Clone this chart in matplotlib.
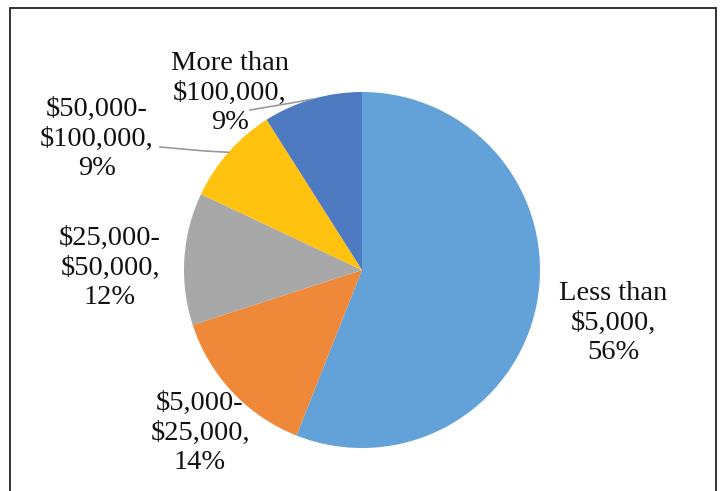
import numpy as np
import matplotlib
matplotlib.use("Agg")
import matplotlib.pyplot as plt
from matplotlib.patches import Rectangle

# slices, clockwise from 12 o'clock
labels = ["Less than\n$5,000,\n56%",
          "$5,000-\n$25,000,\n14%",
          "$25,000-\n$50,000,\n12%",
          "$50,000-\n$100,000,\n9%",
          "More than\n$100,000,\n9%"]
shares = [56, 14, 12, 9, 9]
colors = ["#63A2D8", "#EF8838", "#A8A8A8", "#FFC20E", "#4E7AC2"]

W, H = 723, 491
fig = plt.figure(figsize=(W / 100, H / 100), dpi=100)
ax = fig.add_axes([0, 0, 1, 1])

cx, cy, r = 362, H - 270, 178
wedges, _ = ax.pie(shares, colors=colors, startangle=90, counterclock=False,
                   center=(cx, cy), radius=r, frame=True,
                   wedgeprops=dict(linewidth=0))
ax.set_xlim(0, W)
ax.set_ylim(0, H)
ax.set_aspect("equal")
ax.axis("off")

# label centres in pixel coords (x, y from top)
label_pos = [(613, 323), (200, 433), (110, 268), (97, 139), (230, 93)]
for lab, (x, y) in zip(labels, label_pos):
    ax.text(x, H - y, lab, ha="center", va="center", fontsize=20.5,
            family="Liberation Serif", color="#111111", linespacing=1.22)

# leader lines for the two small slices
def edge_point(w):
    ang = np.deg2rad((w.theta1 + w.theta2) / 2)
    return cx + r * np.cos(ang), cy + r * np.sin(ang)

ex, ey = edge_point(wedges[4])
ax.plot([250, 297, ex], [H - 110, H - 102, ey], color="#9A9A9A", lw=1.2)
ex, ey = edge_point(wedges[3])
ax.plot([160, 205, ex], [H - 147, H - 151, ey], color="#9A9A9A", lw=1.2)

# outer frame
fig.add_artist(Rectangle((10 / W, -0.05), 706 / W, (H - 8) / H + 0.05,
                         transform=fig.transFigure, fill=False,
                         edgecolor="#222222", lw=1.3))

fig.savefig("out.png", dpi=100)
